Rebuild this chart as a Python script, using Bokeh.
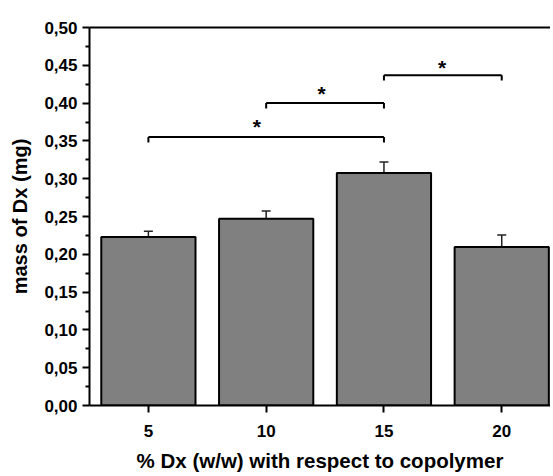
from bokeh.plotting import figure
from bokeh.models import (ColumnDataSource, FixedTicker, LinearAxis, Whisker, TeeHead,
                          CustomJSTickFormatter, Range1d)
from bokeh.core.properties import value
from bokeh.embed import file_html
from bokeh.resources import INLINE

# data
dx_percent = [5, 10, 15, 20]
mass_mg = [0.223, 0.247, 0.3075, 0.2096]
mass_err = [0.0076, 0.0104, 0.0145, 0.0158]

bracket_left = [5, 10, 15]
bracket_right = [15, 15, 20]
bracket_y = [0.355, 0.400, 0.4368]
star_x = [9.6, 12.35, 17.47]
star_y = [0.370, 0.4136, 0.448]

y_ticks = [0.00, 0.05, 0.10, 0.15, 0.20, 0.25, 0.30, 0.35, 0.40, 0.45, 0.50]
y_minor = [0.025, 0.075, 0.125, 0.175, 0.225, 0.275, 0.325, 0.375, 0.425, 0.475]

FONT = "Liberation Sans"

p = figure(width=550, height=474, output_backend="svg", toolbar_location=None,
           x_range=Range1d(2.5, 22.07), y_range=Range1d(0, 0.5),
           min_border_left=89, min_border_right=0, min_border_top=27, min_border_bottom=67)
p.outline_line_color = None
p.grid.visible = False
p.background_fill_color = "white"
p.border_fill_color = "white"

# bars
src = ColumnDataSource(dict(x=dx_percent, top=mass_mg,
                            upper=[m + e for m, e in zip(mass_mg, mass_err)],
                            lower=[m - e for m, e in zip(mass_mg, mass_err)]))
p.vbar(x="x", top="top", width=4, bottom=0, source=src,
       fill_color="#808080", line_color="black", line_width=2)

w = Whisker(base="x", upper="upper", lower="lower", source=src,
            line_color="#222222", line_width=1.5,
            upper_head=TeeHead(size=9, line_color="#222222", line_width=1.5),
            lower_head=TeeHead(size=9, line_color="#222222", line_width=1.5))
p.add_layout(w)

# significance brackets
tick_len = 0.007
p.segment(x0=bracket_left, x1=bracket_right, y0=bracket_y, y1=bracket_y,
          line_color="black", line_width=2)
p.segment(x0=bracket_left, x1=bracket_left, y0=bracket_y,
          y1=[b - tick_len for b in bracket_y], line_color="black", line_width=2)
p.segment(x0=bracket_right, x1=bracket_right, y0=bracket_y,
          y1=[b - tick_len for b in bracket_y], line_color="black", line_width=2)
p.text(x=star_x, y=star_y, text=["*"] * 3, text_align="center", text_baseline="middle",
       text_font=value(FONT), text_font_style="bold", text_font_size="21px",
       text_color="black", y_offset=1)

# axes
xa = p.xaxis[0]
xa.ticker = FixedTicker(ticks=dx_percent)
xa.minor_tick_line_color = None
xa.major_tick_in = 0
xa.major_tick_out = 7
xa.major_tick_line_width = 2
xa.axis_line_width = 2
xa.major_label_standoff = 12
xa.major_label_text_font = FONT
xa.major_label_text_font_style = "bold"
xa.major_label_text_font_size = "17px"
xa.major_label_text_color = "black"
xa.axis_label = "% Dx (w/w) with respect to copolymer"
xa.axis_label_text_font = FONT
xa.axis_label_text_font_style = "bold"
xa.axis_label_text_font_size = "20.5px"
xa.axis_label_text_color = "black"
xa.axis_label_standoff = 9

ya = p.yaxis[0]
ya.ticker = FixedTicker(ticks=y_ticks, minor_ticks=y_minor)
ya.formatter = CustomJSTickFormatter(code="return tick.toFixed(2).replace('.', ',');")
ya.major_tick_in = 0
ya.major_tick_out = 7
ya.minor_tick_in = 0
ya.minor_tick_out = 4
ya.major_tick_line_width = 2
ya.minor_tick_line_width = 2
ya.axis_line_width = 2
ya.major_label_standoff = 5
ya.major_label_text_font = FONT
ya.major_label_text_font_style = "bold"
ya.major_label_text_font_size = "17px"
ya.major_label_text_color = "black"
ya.axis_label = "mass of Dx (mg)"
ya.axis_label_text_font = FONT
ya.axis_label_text_font_style = "bold"
ya.axis_label_text_font_size = "20px"
ya.axis_label_text_color = "black"
ya.axis_label_standoff = 10

top_axis = LinearAxis(ticker=FixedTicker(ticks=[]), major_tick_out=0, major_tick_in=0,
                      minor_tick_line_color=None, major_label_text_font_size="0px",
                      major_label_standoff=0, axis_line_width=2, axis_line_color="black")
p.add_layout(top_axis, "above")

open("out.html", "w").write(file_html(p, INLINE))
